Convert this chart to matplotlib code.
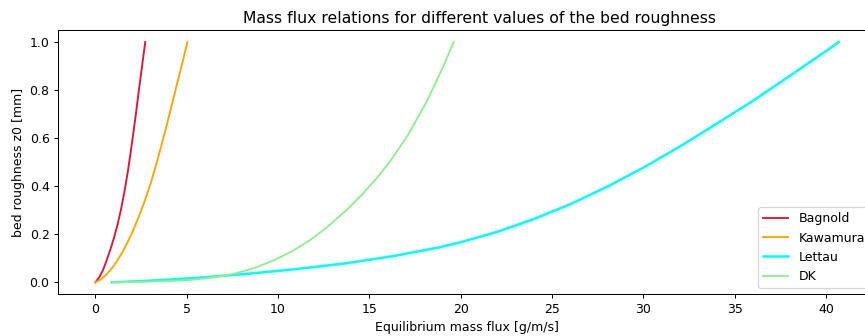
import matplotlib
matplotlib.use("Agg")
import matplotlib.pyplot as plt

# Equilibrium mass flux [g/m/s] against bed roughness z0 [mm]
bagnold_q = [0.0, 0.2, 0.4, 0.6, 0.8, 1.0, 1.2, 1.4, 1.6, 1.8, 2.0, 2.2, 2.4, 2.6, 2.73]
bagnold_z0 = [0.0, 0.02, 0.048, 0.088, 0.132, 0.18, 0.236, 0.302, 0.381, 0.472,
              0.578, 0.69, 0.81, 0.925, 1.0]

kawamura_q = [0.0, 0.3, 0.6, 0.9, 1.2, 1.5, 1.8, 2.1, 2.4, 2.7, 3.0, 3.3, 3.6,
              3.9, 4.2, 4.5, 4.8, 5.04]
kawamura_z0 = [0.0, 0.012, 0.032, 0.058, 0.09, 0.128, 0.172, 0.222, 0.278, 0.338,
               0.405, 0.482, 0.565, 0.652, 0.743, 0.834, 0.925, 1.0]

lettau_q = [0.9, 2.5, 4.0, 6.0, 8.4, 11.0, 13.7, 16.3, 18.8, 20.0, 22.0, 24.0,
            26.0, 28.0, 30.0, 32.0, 34.0, 36.0, 38.0, 40.0, 40.71]
lettau_z0 = [0.0, 0.005, 0.011, 0.021, 0.036, 0.055, 0.079, 0.109, 0.145, 0.167,
             0.21, 0.263, 0.325, 0.397, 0.477, 0.565, 0.659, 0.755, 0.858, 0.962, 1.0]

dk_q = [0.95, 2.5, 4.05, 5.15, 6.46, 7.67, 8.72, 9.8, 10.79, 11.83, 12.71, 13.74,
        14.65, 15.48, 16.21, 17.1, 18.12, 18.99, 19.62]
dk_z0 = [0.0, 0.002, 0.005, 0.0095, 0.02, 0.037, 0.06, 0.0925, 0.13, 0.18, 0.231,
         0.3, 0.369, 0.44, 0.511, 0.611, 0.749, 0.888, 1.0]

DPI = 90
fig = plt.figure(figsize=(865 / DPI, 336 / DPI), dpi=DPI)
ax = fig.add_axes([0.0674, 0.124, 0.9454, 0.7866])

ax.plot(bagnold_q, bagnold_z0, color="crimson", lw=1.5, label="Bagnold")
ax.plot(kawamura_q, kawamura_z0, color="orange", lw=1.5, label="Kawamura")
ax.plot(lettau_q, lettau_z0, color="cyan", lw=2.0, label="Lettau")
ax.plot(dk_q, dk_z0, color="lightgreen", lw=1.5, label="DK")

ax.set_title("Mass flux relations for different values of the bed roughness",
             fontsize=12.5, x=0.5155)
ax.set_xlabel("Equilibrium mass flux [g/m/s]")
ax.set_ylabel("bed roughness z0 [mm]")
ax.set_xlim(-2.03, 42.75)
ax.set_ylim(-0.05, 1.05)
ax.set_xticks(range(0, 45, 5))
ax.legend(loc="lower right")

fig.savefig("out.png", dpi=DPI)
